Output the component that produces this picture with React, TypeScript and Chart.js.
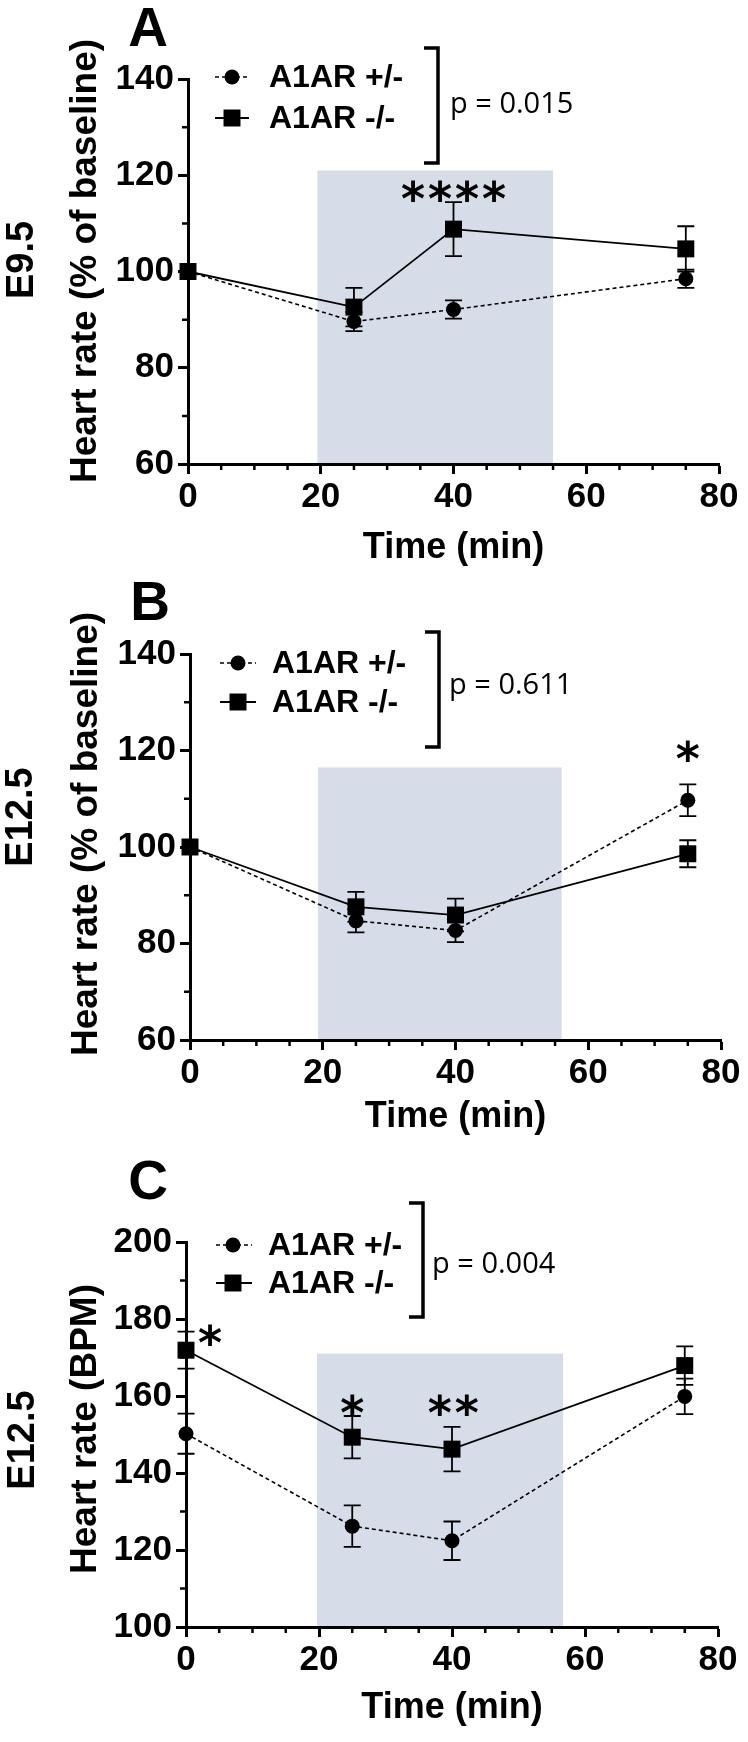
import React, { useEffect, useRef } from 'react';
import { Chart, registerables } from 'chart.js';

Chart.register(...registerables);

// ---------- data ----------
const TIME_POINTS = [0, 25, 40, 75];
const SERIES_LABELS = ['A1AR +/-', 'A1AR -/-'];

// Panel A: E9.5, % of baseline
const A_HET = [100, 89.6, 92.1, 98.5];
const A_HET_SEM = [0, 2.0, 1.9, 1.9];
const A_KO = [100, 92.6, 108.8, 104.7];
const A_KO_SEM = [0, 4.0, 5.6, 4.7];

// Panel B: E12.5, % of baseline
const B_HET = [100, 84.7, 82.7, 109.7];
const B_HET_SEM = [0, 2.4, 2.4, 3.3];
const B_KO = [100, 87.6, 85.9, 98.6];
const B_KO_SEM = [0, 3.1, 3.4, 2.8];

// Panel C: E12.5, BPM
const C_HET = [150.2, 126.2, 122.4, 159.9];
const C_HET_SEM = [5.2, 5.4, 5.0, 4.6];
const C_KO = [171.9, 149.3, 146.2, 167.9];
const C_KO_SEM = [4.8, 5.5, 5.8, 5.0];

const X_TICKS = [0, 20, 40, 60, 80];
const X_MINOR = [5, 10, 15, 25, 30, 35, 45, 50, 55, 65, 70, 75];
const Y_TICKS_PCT = [60, 80, 100, 120, 140];
const Y_MINOR_PCT = [70, 90, 110, 130];
const Y_TICKS_BPM = [100, 120, 140, 160, 180, 200];
const Y_MINOR_BPM = [110, 130, 150, 170, 190];

// shaded drug window: [start min, end min, top value]
const SHADE_A = [19.5, 55, 121];
const SHADE_B = [19.3, 56, 116.5];
const SHADE_C = [19.7, 56.7, 171];

const P_A = 'p = 0.015';
const P_B = 'p = 0.611';
const P_C = 'p = 0.004';

// significance marks: [x (min), y (value), count]
const STARS_A = [[40, 116.8, 4]];
const STARS_B = [[75, 120, 1]];
const STARS_C = [[3.6, 175.8, 1], [25, 157.6, 1], [40.2, 157.6, 2]];

// ---------- styles ----------
const SANS = "'Liberation Sans', Arial, sans-serif";
const SHADE_COLOR = 'rgb(214, 221, 232)';
const W = 748;

const PANELS = [
  {
    letter: 'A', stage: 'E9.5', yTitle: 'Heart rate (% of baseline)',
    het: A_HET, hetSem: A_HET_SEM, ko: A_KO, koSem: A_KO_SEM,
    yTicks: Y_TICKS_PCT, yMinor: Y_MINOR_PCT, shade: SHADE_A, p: P_A, stars: STARS_A,
    top: 0, height: 580,
    L: {
      left: 188, right: 719, top: 79, bottom: 464,
      letter: [148, 27], stage: [23, 260], yTitle: [86, 261], xTitleY: 548,
      legLine: [215, 249], legMark: 232, legText: 269, legRows: [77, 118],
      bracket: { x: 438, top: 48, bottom: 163, arm: 424 }, pPos: [450, 105],
    },
  },
  {
    letter: 'B', stage: 'E12.5', yTitle: 'Heart rate (% of baseline)',
    het: B_HET, hetSem: B_HET_SEM, ko: B_KO, koSem: B_KO_SEM,
    yTicks: Y_TICKS_PCT, yMinor: Y_MINOR_PCT, shade: SHADE_B, p: P_B, stars: STARS_B,
    top: 580, height: 580,
    L: {
      left: 190, right: 721, top: 74, bottom: 460,
      letter: [150, 21], stage: [22, 237], yTitle: [87, 254], xTitleY: 537,
      legLine: [220, 256], legMark: 238, legText: 272, legRows: [83, 122],
      bracket: { x: 439, top: 52, bottom: 167, arm: 425 }, pPos: [449, 106],
    },
  },
  {
    letter: 'C', stage: 'E12.5', yTitle: 'Heart rate (BPM)',
    het: C_HET, hetSem: C_HET_SEM, ko: C_KO, koSem: C_KO_SEM,
    yTicks: Y_TICKS_BPM, yMinor: Y_MINOR_BPM, shade: SHADE_C, p: P_C, stars: STARS_C,
    top: 1160, height: 582,
    L: {
      left: 186, right: 718, top: 82, bottom: 467,
      letter: [148, 20], stage: [24, 280], yTitle: [86, 269], xTitleY: 548,
      legLine: [216, 252], legMark: 233, legText: 268, legRows: [85, 123],
      bracket: { x: 423, top: 43, bottom: 157, arm: 409 }, pPos: [432, 105],
    },
  },
];

function drawMarker(ctx: CanvasRenderingContext2D, style: string, r: number, cx: number, cy: number) {
  ctx.beginPath();
  if (style === 'rect') {
    const s = Math.SQRT1_2 * r;
    ctx.rect(cx - s, cy - s, 2 * s, 2 * s);
  } else {
    ctx.arc(cx, cy, r, 0, Math.PI * 2);
  }
  ctx.fill();
}

function centeredText(ctx: CanvasRenderingContext2D, text: string, cx: number, cy: number) {
  ctx.textAlign = 'center';
  ctx.textBaseline = 'alphabetic';
  const m = ctx.measureText(text);
  const a = m.actualBoundingBoxAscent, d = m.actualBoundingBoxDescent;
  ctx.fillText(text, cx, cy + (a - d) / 2);
}

function makeDecor(P: any) {
  const L = P.L;
  return {
    id: 'decor' + P.letter,
    beforeDraw(chart: any) {
      const { ctx, scales: { x, y } } = chart;
      const x0 = x.getPixelForValue(P.shade[0]);
      const x1 = x.getPixelForValue(P.shade[1]);
      const yt = y.getPixelForValue(P.shade[2]);
      const yb = y.getPixelForValue(y.min);
      ctx.save();
      ctx.fillStyle = SHADE_COLOR;
      ctx.fillRect(x0, yt, x1 - x0, yb - yt);
      ctx.restore();
    },
    beforeDatasetsDraw(chart: any) {
      const { ctx, scales: { x, y } } = chart;
      const sems = [P.hetSem, P.koSem];
      ctx.save();
      ctx.strokeStyle = '#000';
      ctx.lineWidth = 1.8;
      chart.data.datasets.forEach((ds: any, di: number) => {
        ds.data.forEach((pt: any, i: number) => {
          const s = sems[di][i];
          if (!s) return;
          const px = x.getPixelForValue(pt.x);
          const yHi = y.getPixelForValue(pt.y + s);
          const yLo = y.getPixelForValue(pt.y - s);
          const cap = 8.5;
          ctx.beginPath();
          ctx.moveTo(px, yHi); ctx.lineTo(px, yLo);
          ctx.moveTo(px - cap, yHi); ctx.lineTo(px + cap, yHi);
          ctx.moveTo(px - cap, yLo); ctx.lineTo(px + cap, yLo);
          ctx.stroke();
        });
      });
      ctx.restore();
    },
    afterDraw(chart: any) {
      const { ctx, chartArea, scales: { x, y } } = chart;
      ctx.save();
      ctx.fillStyle = '#000';
      ctx.strokeStyle = '#000';

      // minor ticks
      ctx.lineWidth = 2.5;
      ctx.beginPath();
      X_MINOR.forEach((v) => {
        const px = x.getPixelForValue(v);
        ctx.moveTo(px, chartArea.bottom); ctx.lineTo(px, chartArea.bottom + 6);
      });
      P.yMinor.forEach((v: number) => {
        const py = y.getPixelForValue(v);
        ctx.moveTo(chartArea.left, py); ctx.lineTo(chartArea.left - 6, py);
      });
      ctx.stroke();

      // panel letter
      ctx.font = `bold 55px ${SANS}`;
      centeredText(ctx, P.letter, L.letter[0], L.letter[1]);

      // rotated stage + y title
      const rot = (text: string, font: string, cx: number, cy: number) => {
        ctx.save();
        ctx.translate(cx, cy);
        ctx.rotate(-Math.PI / 2);
        ctx.font = font;
        ctx.textAlign = 'center';
        ctx.textBaseline = 'middle';
        ctx.fillText(text, 0, 0);
        ctx.restore();
      };
      rot(P.stage, `bold 38px ${SANS}`, L.stage[0], L.stage[1]);
      rot(P.yTitle, `bold 37px ${SANS}`, L.yTitle[0], L.yTitle[1]);

      // x title
      ctx.font = `bold 36px ${SANS}`;
      ctx.textAlign = 'center';
      ctx.textBaseline = 'middle';
      ctx.fillText('Time (min)', (chartArea.left + chartArea.right) / 2, L.xTitleY);

      // legend
      chart.data.datasets.forEach((ds: any, di: number) => {
        const ry = L.legRows[di];
        ctx.save();
        ctx.lineWidth = ds.borderWidth;
        ctx.setLineDash(ds.borderDash || []);
        ctx.beginPath();
        ctx.moveTo(L.legLine[0], ry); ctx.lineTo(L.legLine[1], ry);
        ctx.stroke();
        ctx.restore();
        drawMarker(ctx, ds.pointStyle, ds.pointRadius, L.legMark, ry);
        ctx.font = `bold 32px ${SANS}`;
        ctx.textAlign = 'left';
        ctx.textBaseline = 'middle';
        ctx.fillText(ds.label, L.legText, ry + 1);
      });

      // bracket
      const b = L.bracket;
      ctx.lineWidth = 3.5;
      ctx.beginPath();
      ctx.moveTo(b.arm, b.top); ctx.lineTo(b.x, b.top); ctx.lineTo(b.x, b.bottom); ctx.lineTo(b.arm, b.bottom);
      ctx.stroke();

      // p value
      ctx.font = `29px 'Open Sans', ${SANS}`;
      ctx.textAlign = 'left';
      ctx.textBaseline = 'middle';
      ctx.fillText(P.p, L.pPos[0], L.pPos[1]);

      // significance stars
      ctx.font = `bold 46px 'DejaVu Sans', sans-serif`;
      P.stars.forEach((s: number[]) => {
        const cx = x.getPixelForValue(s[0]);
        const cy = y.getPixelForValue(s[1]);
        const n = s[2];
        for (let i = 0; i < n; i++) {
          centeredText(ctx, '*', cx + (i - (n - 1) / 2) * 27, cy);
        }
      });
      ctx.restore();
    },
  };
}

function buildConfig(P: any): any {
  const L = P.L;
  const tickFont = { family: SANS, size: 35, weight: 'bold' as const };
  const axisGrid = { display: true, drawOnChartArea: false, drawTicks: true, tickLength: 10, tickWidth: 3, tickColor: '#000' };
  const border = { display: true, color: '#000', width: 3 };
  return {
    type: 'line',
    data: {
      datasets: [
        {
          label: SERIES_LABELS[0],
          data: TIME_POINTS.map((t, i) => ({ x: t, y: P.het[i] })),
          borderColor: '#000', backgroundColor: '#000', borderWidth: 1.6, borderDash: [4, 3],
          pointStyle: 'circle', pointRadius: 7.5, pointBorderWidth: 0, pointBackgroundColor: '#000',
          clip: false, order: 1, tension: 0,
        },
        {
          label: SERIES_LABELS[1],
          data: TIME_POINTS.map((t, i) => ({ x: t, y: P.ko[i] })),
          borderColor: '#000', backgroundColor: '#000', borderWidth: 1.8,
          pointStyle: 'rect', pointRadius: 12, pointBorderWidth: 0, pointBackgroundColor: '#000',
          clip: false, order: 0, tension: 0,
        },
      ],
    },
    options: {
      responsive: false,
      animation: false,
      devicePixelRatio: 1,
      layout: { padding: { left: 0, right: W - L.right, top: L.top, bottom: 0 } },
      plugins: { legend: { display: false }, tooltip: { enabled: false } },
      scales: {
        x: {
          type: 'linear', min: X_TICKS[0], max: X_TICKS[X_TICKS.length - 1],
          afterBuildTicks: (s: any) => { s.ticks = X_TICKS.map((v) => ({ value: v })); },
          afterFit: (s: any) => { s.height = P.height - L.bottom; },
          ticks: { font: tickFont, color: '#000', padding: 2, maxRotation: 0, autoSkip: false },
          grid: axisGrid, border,
        },
        y: {
          type: 'linear', min: P.yTicks[0], max: P.yTicks[P.yTicks.length - 1],
          afterBuildTicks: (s: any) => { s.ticks = P.yTicks.map((v: number) => ({ value: v })); },
          afterFit: (s: any) => { s.width = L.left; },
          ticks: { font: tickFont, color: '#000', padding: 4, autoSkip: false },
          grid: axisGrid, border,
        },
      },
    },
    plugins: [makeDecor(P)],
  };
}

function Panel({ P }: { P: any }) {
  const ref = useRef<HTMLCanvasElement>(null);
  useEffect(() => {
    const chart = new Chart(ref.current as HTMLCanvasElement, buildConfig(P));
    return () => chart.destroy();
  }, [P]);
  return (
    <canvas
      ref={ref}
      width={W}
      height={P.height}
      style={{ position: 'absolute', left: 0, top: P.top, width: W, height: P.height, display: 'block' }}
    />
  );
}

export default function App() {
  return (
    <div style={{ position: 'absolute', left: 0, top: 0, width: W, height: 1742, background: '#fff' }}>
      {PANELS.map((P) => (
        <Panel key={P.letter} P={P} />
      ))}
    </div>
  );
}
